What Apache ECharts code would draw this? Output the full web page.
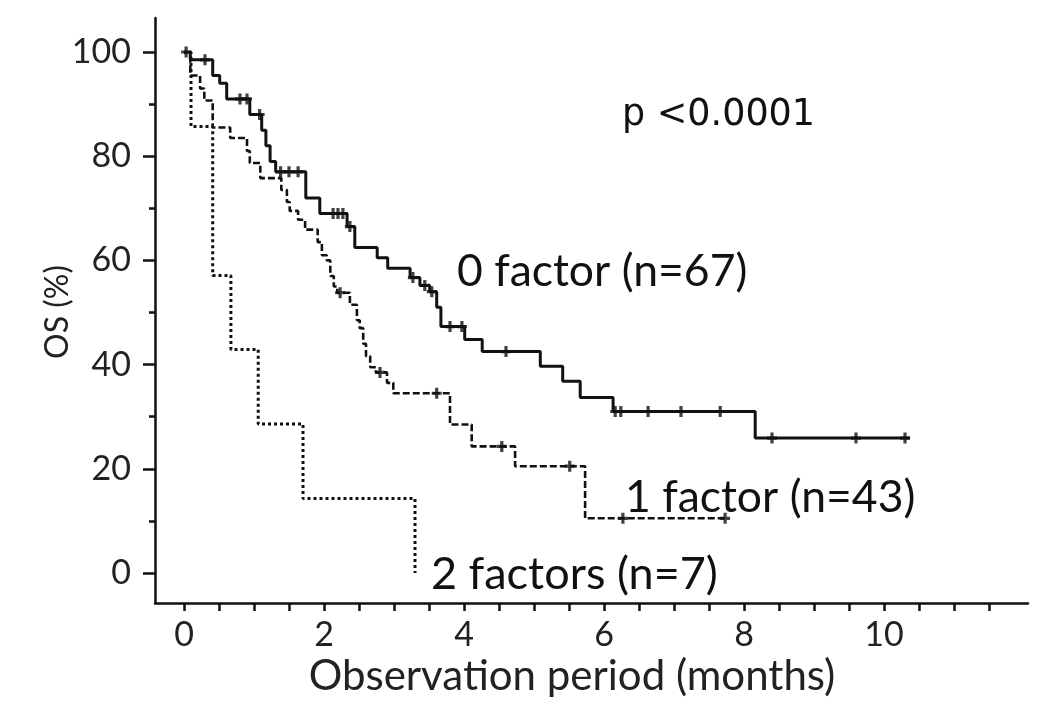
<!DOCTYPE html>
<html>
<head>
<meta charset="utf-8">
<script src="https://cdn.jsdelivr.net/npm/echarts@6/dist/echarts.min.js"></script>
<style>
  html, body { margin: 0; padding: 0; background: #fff; }
  #chart { width: 1050px; height: 722px; }
</style>
</head>
<body>
<div id="chart"></div>
<script>
// 0 factor (n=67): step times (months) and survival (%)
const time0 = [0, 0.09, 0.41, 0.51, 0.61, 0.94, 1.11, 1.17, 1.23, 1.31, 1.74, 1.94, 2.33, 2.44, 2.76,
  2.91, 3.23, 3.37, 3.51, 3.61, 3.67, 4.01, 4.26, 5.09, 5.41, 5.66, 6.13, 8.16, 10.37];
const surv0 = [100, 98.5, 95.5, 94, 91, 88, 85, 82, 79, 77, 72, 69, 66.5, 62.5, 60.5,
  58.5, 56.7, 55.2, 54, 51, 47.3, 44.8, 42.5, 39.7, 36.8, 33.7, 31, 25.9, 25.9];
const censT0 = [0.03, 0.3, 0.8, 0.9, 1.08, 1.38, 1.5, 1.63, 2.13, 2.2, 2.27, 2.37, 3.27, 3.44, 3.54,
  3.8, 3.97, 4.6, 6.16, 6.24, 6.63, 7.1, 7.66, 8.4, 9.6, 10.3];
const censS0 = [100, 98.5, 91, 91, 88, 77, 77, 77, 69, 69, 69, 66.5, 56.7, 55.2, 54,
  47.3, 47.3, 42.5, 31, 31, 31, 31, 31, 25.9, 25.9, 25.9];

// 1 factor (n=43)
const time1 = [0, 0.09, 0.23, 0.29, 0.41, 0.66, 0.9, 0.94, 1.09, 1.39, 1.47, 1.51, 1.63, 1.73, 1.91,
  1.97, 2.04, 2.09, 2.14, 2.19, 2.37, 2.47, 2.51, 2.56, 2.6, 2.66, 2.74, 2.9, 2.99, 3.8,
  4.11, 4.73, 5.73, 7.76];
const surv1 = [100, 95.5, 93, 90.7, 85.5, 83.5, 81, 78.7, 75.8, 73.5, 71.2, 69.5, 67.8, 65.9, 63.5,
  61, 60, 57, 55, 53.8, 51.5, 48.5, 47, 44, 41.6, 39.5, 38.5, 36.5, 34.5, 28.5,
  24.3, 20.5, 10.5, 10.5];
const censT1 = [2.23, 2.8, 3.61, 4.54, 5.51, 6.27, 7.73];
const censS1 = [53.8, 38.5, 34.5, 24.3, 20.5, 10.5, 10.5];

// 2 factors (n=7)
const time2 = [0, 0.1, 0.41, 0.67, 1.06, 1.7, 3.3];
const surv2 = [100, 85.7, 57.1, 42.9, 28.6, 14.3, 0];

const xTicks = [0, 2, 4, 6, 8, 10];
const yTicks = [0, 20, 40, 60, 80, 100];

const pairs = (xs, ys) => xs.map((x, i) => [x, ys[i]]);
const FONT = 'Lato, "Open Sans", sans-serif';
const plus = 'path://M-1.6,-5.5H1.6V-1.6H5V1.6H1.6V5.5H-1.6V1.6H-5V-1.6H-1.6Z';

const chart = echarts.init(document.getElementById('chart'), null, { renderer: 'canvas' });

const curve = (data, type, width) => ({
  type: 'line',
  xAxisIndex: 1,
  yAxisIndex: 1,
  step: 'end',
  showSymbol: false,
  data: data,
  lineStyle: { color: '#111', width: width, type: type, cap: 'butt' },
  silent: true
});
const marks = (data) => ({
  type: 'scatter',
  xAxisIndex: 1,
  yAxisIndex: 1,
  symbol: plus,
  symbolSize: [10, 11],
  data: data,
  itemStyle: { color: '#111' },
  silent: true
});
const label = (text, x, y, size, color) => ({
  type: 'text',
  x: x, y: y,
  style: {
    text: text, font: size + 'px ' + FONT, fill: color || '#111',
    textAlign: 'left', textVerticalAlign: 'middle', verticalAlign: 'middle'
  }
});

chart.setOption({
  animation: false,
  backgroundColor: '#fff',
  grid: [
    // frame with the two axis lines
    { left: 155, top: 18, width: 873, height: 585 },
    // plotting area: x 0..11.5 months, y 0..100 %
    { left: 184, top: 52, width: 805, height: 521 }
  ],
  xAxis: [
    {
      gridIndex: 0, type: 'value', min: 0, max: 1,
      axisLine: { show: true, onZero: false, lineStyle: { color: '#111', width: 2.5 } },
      axisTick: { show: false }, axisLabel: { show: false }, splitLine: { show: false }
    },
    {
      gridIndex: 1, type: 'value', min: 0, max: 11.5, interval: 0.5, offset: 30,
      axisLine: { show: false, onZero: false },
      axisTick: { show: true, length: 8, lineStyle: { color: '#111', width: 2.5 } },
      axisLabel: {
        margin: 15, color: '#222', fontSize: 34, fontFamily: FONT,
        formatter: (v) => xTicks.includes(v) ? String(v) : ''
      },
      splitLine: { show: false }
    }
  ],
  yAxis: [
    {
      gridIndex: 0, type: 'value', min: 0, max: 1,
      axisLine: { show: true, onZero: false, lineStyle: { color: '#111', width: 2.5 } },
      axisTick: { show: false }, axisLabel: { show: false }, splitLine: { show: false }
    },
    {
      gridIndex: 1, type: 'value', min: 0, max: 100, interval: 20, offset: 29,
      axisLine: { show: false, onZero: false },
      axisTick: { show: true, length: 12, lineStyle: { color: '#111', width: 2.5 } },
      minorTick: { show: true, splitNumber: 2, length: 6, lineStyle: { color: '#111', width: 2.5 } },
      axisLabel: {
        margin: 24, color: '#222', fontSize: 34, fontFamily: FONT,
        formatter: (v) => yTicks.includes(v) ? String(v) : ''
      },
      splitLine: { show: false }
    }
  ],
  series: [
    curve(pairs(time2, surv2), [3, 3], 3),
    curve(pairs(time1, surv1), [7, 3], 2.6),
    curve(pairs(time0, surv0), 'solid', 3),
    marks(pairs(censT1, censS1)),
    marks(pairs(censT0, censS0))
  ],
  graphic: [
    {
      type: 'text', x: 622, y: 116,
      style: {
        text: 'p <0.0001', font: '36.5px "DejaVu Sans"', fill: '#111',
        textAlign: 'left', textVerticalAlign: 'middle', verticalAlign: 'middle'
      }
    },
    label('0 factor (n=67)', 457, 272, 44.5),
    label('1 factor (n=43)', 625, 498, 44.5),
    label('2 factors (n=7)', 431, 574, 45),
    {
      type: 'text', x: 572, y: 676,
      style: {
        text: 'Observation period (months)', font: '42px ' + FONT, fill: '#222',
        textAlign: 'center', textVerticalAlign: 'middle', verticalAlign: 'middle'
      }
    },
    {
      type: 'text', x: 58, y: 312, rotation: Math.PI / 2,
      style: {
        text: 'OS (%)', font: '32px ' + FONT, fill: '#222',
        textAlign: 'center', textVerticalAlign: 'middle', verticalAlign: 'middle'
      }
    }
  ]
});
</script>
</body>
</html>
